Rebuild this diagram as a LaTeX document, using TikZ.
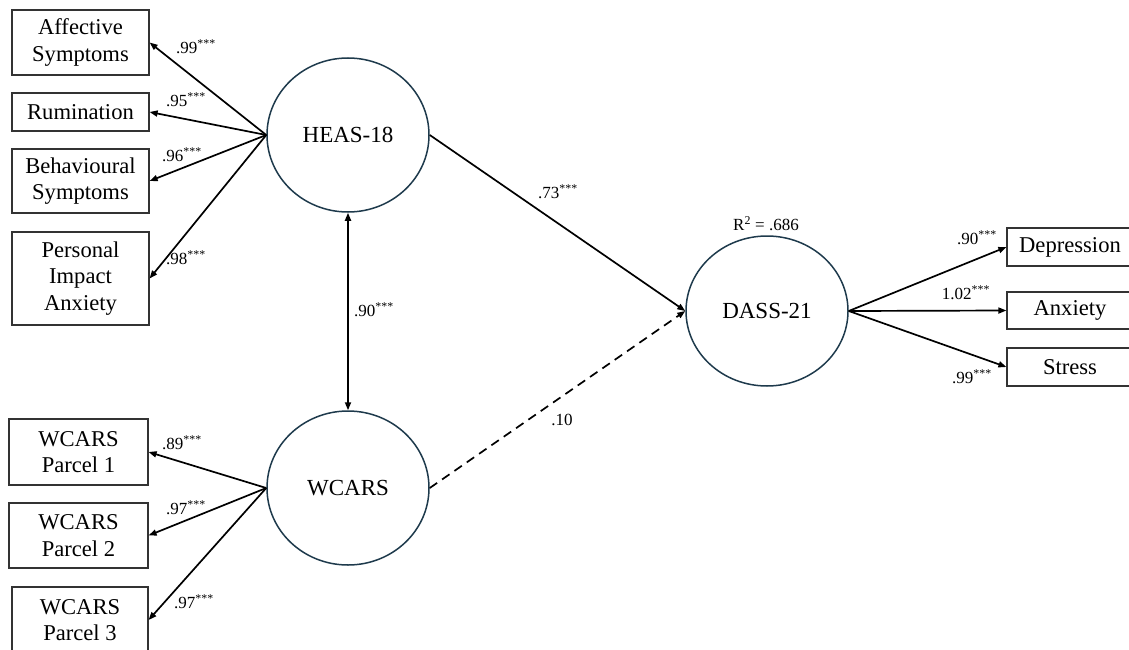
\documentclass[tikz,border=0pt]{standalone}
\usepackage{fontspec}
\setmainfont{Liberation Serif}
\usetikzlibrary{shapes.geometric,arrows.meta}
\definecolor{latentline}{HTML}{1E3A4C}
\definecolor{boxline}{HTML}{333333}
\tikzset{
  obsbox/.style={draw=boxline, line width=1.2pt, align=center, inner sep=0pt,
    font=\fontsize{22.6}{26.5}\selectfont},
  latent/.style={ellipse, draw=latentline, line width=1.5pt, inner sep=0pt,
    minimum width=162pt, minimum height=154pt, font=\fontsize{23}{28}\selectfont},
  path arrow/.style={line width=1.7pt, -{Triangle[length=8pt,width=6pt]}},
  coef/.style={inner sep=0pt, font=\fontsize{17}{20}\selectfont}
}
\newcommand{\sig}{\textsuperscript{***}}
\begin{document}
\begin{tikzpicture}[x=1pt,y=-1pt]
\useasboundingbox (0,0) rectangle (1129,650);
\clip (0,0) rectangle (1129,650);

% latent variables
\node[latent] (heas) at (348,135) {HEAS-18};
\node[latent] (wcars) at (348,488) {WCARS};
\node[latent, minimum height=150pt] (dass) at (767,311) {DASS-21};

% HEAS-18 indicators
\node[obsbox, minimum width=137pt, minimum height=65pt] (aff) at (80.5,42.5) {Affective\\Symptoms};
\node[obsbox, minimum width=137pt, minimum height=38pt] (rum) at (80.5,112) {Rumination};
\node[obsbox, minimum width=137pt, minimum height=64pt] (beh) at (80.5,181) {Behavioural\\Symptoms};
\node[obsbox, minimum width=137pt, minimum height=93pt] (pia) at (80.5,278.5) {Personal\\Impact\\Anxiety};

% WCARS parcels
\node[obsbox, minimum width=139pt, minimum height=66pt] (wp1) at (78.5,452) {WCARS\\Parcel 1};
\node[obsbox, minimum width=139pt, minimum height=65pt] (wp2) at (78.5,535.5) {WCARS\\Parcel 2};
\node[obsbox, minimum width=136pt, minimum height=66pt] (wp3) at (80,620) {WCARS\\Parcel 3};

% DASS-21 subscales
\node[obsbox, minimum width=126pt, minimum height=38pt] (dep) at (1070,247) {Depression};
\node[obsbox, minimum width=126pt, minimum height=37pt] (anx) at (1070,310.5) {Anxiety};
\node[obsbox, minimum width=126pt, minimum height=38pt] (str) at (1070,367) {Stress};

% loadings
\foreach \t in {aff,rum,beh,pia} \draw[path arrow] (heas.west) -- (\t.east);
\foreach \t in {wp1,wp2,wp3} \draw[path arrow] (wcars.west) -- (\t.east);
\foreach \t in {dep,anx,str} \draw[path arrow] (dass.east) -- (\t.west);

% structural paths
\draw[line width=1.7pt, {Triangle[length=8pt,width=6pt]}-{Triangle[length=8pt,width=6pt]}] (heas.south) -- (wcars.north);
\draw[path arrow] (heas.east) -- (dass.west);
\draw[path arrow, dash pattern=on 9pt off 6pt] (wcars.east) -- (dass.west);

% coefficients
\node[coef] (l1) at (196,47) {.99\sig};
\node[coef] (l2) at (186,100) {.95\sig};
\node[coef] (l3) at (182,155) {.96\sig};
\node[coef] (l4) at (186,258) {.98\sig};
\node[coef] (l5) at (182,443) {.89\sig};
\node[coef] (l6) at (186,508) {.97\sig};
\node[coef] (l7) at (194,602) {.97\sig};
\node[coef] (l8) at (558,192) {.73\sig};
\node[coef] (l9) at (374,310) {.90\sig};
\node[coef] (l10) at (562,420) {.10};
\node[coef] (r2) at (766,224) {R\textsuperscript{2} = .686};
\node[coef] (l11) at (977,238) {.90\sig};
\node[coef] (l12) at (966,293) {1.02\sig};
\node[coef] (l13) at (972,377) {.99\sig};
\end{tikzpicture}
\end{document}
